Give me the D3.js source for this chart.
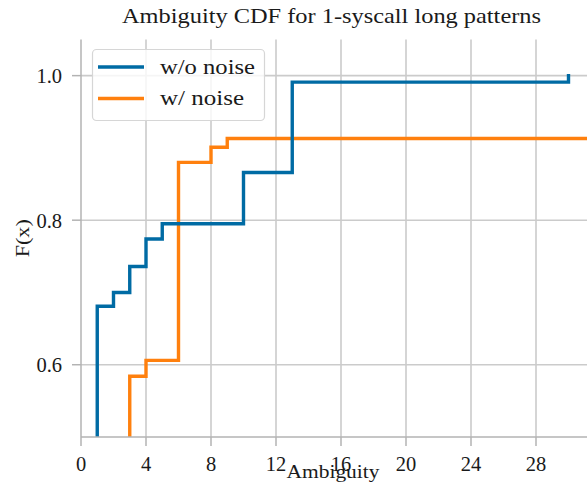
<!DOCTYPE html>
<html>
<head>
<meta charset="utf-8">
<script src="https://cdn.jsdelivr.net/npm/d3@7/dist/d3.min.js"></script>
<style>
  html, body { margin: 0; padding: 0; background: #fff; }
  svg { display: block; }
  text { font-family: "Liberation Serif", "DejaVu Serif", serif; fill: #1a1a1a; }
</style>
</head>
<body>
<svg id="chart" width="587" height="495"></svg>
<script>
// ---- data ----
const titleText = "Ambiguity CDF for 1-syscall long patterns";
const xLabel = "Ambiguity";
const yLabel = "F(x)";
const seriesNames = ["w/o noise", "w/ noise"];
const seriesColors = ["#006BA4", "#FF800E"];

const noNoiseX = [1, 2, 3, 4, 5, 10, 13, 30];
const noNoiseY = [0.681, 0.700, 0.736, 0.774, 0.795, 0.866, 0.991, 1.0];

const noiseX = [3, 4, 6, 8, 9];
const noiseY = [0.584, 0.606, 0.880, 0.901, 0.913];

const xTicks = [0, 4, 8, 12, 16, 20, 24, 28];
const yTicks = [0.6, 0.8, 1.0];
const xDomain = [0, 31];
const yDomain = [0.5, 1.05];

// ---- layout ----
const W = 587, H = 495;
const m = { left: 81, right: 2.25, top: 39.5, bottom: 58 };
const svg = d3.select("#chart");

const x = d3.scaleLinear().domain(xDomain).range([m.left, W - m.right]);
const y = d3.scaleLinear().domain(yDomain).range([H - m.bottom, m.top]);

const gridColor = "#cbcbcb";
const spineColor = "#b3b3b3";

// fit a text to a measured width from the reference
function fitWidth(sel, target) {
  sel.each(function () {
    const w = this.getComputedTextLength();
    if (w > 0 && Math.abs(w - target) > 1) {
      d3.select(this).attr("textLength", target).attr("lengthAdjust", "spacingAndGlyphs");
    }
  });
}

// grid
svg.append("g").selectAll("line.vg").data(xTicks.filter(d => d > 0)).join("line")
  .attr("x1", d => x(d)).attr("x2", d => x(d))
  .attr("y1", y.range()[0]).attr("y2", y.range()[1])
  .attr("stroke", gridColor).attr("stroke-width", 1.6);
svg.append("g").selectAll("line.hg").data(yTicks).join("line")
  .attr("x1", x.range()[0]).attr("x2", W)
  .attr("y1", d => y(d)).attr("y2", d => y(d))
  .attr("stroke", gridColor).attr("stroke-width", 1.6);

// clip
svg.append("clipPath").attr("id", "clip").append("rect")
  .attr("x", x.range()[0]).attr("y", y.range()[1] - 4)
  .attr("width", W - x.range()[0]).attr("height", y.range()[0] - y.range()[1] + 4);

// lines
const line = d3.line().x(d => x(d[0])).y(d => y(d[1])).curve(d3.curveStepAfter);
function stepPoints(xs, ys, extendTo) {
  const pts = [[xs[0], yDomain[0] - 0.01]];
  xs.forEach((v, i) => pts.push([v, ys[i]]));
  if (extendTo !== undefined) pts.push([extendTo, ys[ys.length - 1]]);
  return pts;
}
const plot = svg.append("g").attr("clip-path", "url(#clip)");
plot.append("path").datum(stepPoints(noiseX, noiseY, 40))
  .attr("d", line).attr("fill", "none")
  .attr("stroke", seriesColors[1]).attr("stroke-width", 3.4)
  .attr("stroke-linejoin", "miter");
plot.append("path").datum(stepPoints(noNoiseX, noNoiseY))
  .attr("d", line).attr("fill", "none")
  .attr("stroke", seriesColors[0]).attr("stroke-width", 3.4)
  .attr("stroke-linejoin", "miter").attr("stroke-linecap", "square");

// spines
svg.append("line").attr("x1", x.range()[0]).attr("x2", x.range()[0])
  .attr("y1", y.range()[0]).attr("y2", y.range()[1])
  .attr("stroke", spineColor).attr("stroke-width", 1.5);
svg.append("line").attr("x1", x.range()[0]).attr("x2", W)
  .attr("y1", y.range()[0]).attr("y2", y.range()[0])
  .attr("stroke", spineColor).attr("stroke-width", 1.5);

// ticks
const xt = svg.append("g").selectAll("g").data(xTicks).join("g")
  .attr("transform", d => `translate(${x(d)},${y.range()[0]})`);
xt.append("line").attr("y1", 0).attr("y2", 9).attr("stroke", spineColor).attr("stroke-width", 1.5);
xt.append("text").attr("y", 34).attr("text-anchor", "middle")
  .style("font-size", "20.5px").text(d => d);

const yt = svg.append("g").selectAll("g").data(yTicks).join("g")
  .attr("transform", d => `translate(${x.range()[0]},${y(d)})`);
yt.append("line").attr("x1", -9).attr("x2", 0).attr("stroke", spineColor).attr("stroke-width", 1.5);
yt.append("text").attr("x", -19).attr("y", 7.5).attr("text-anchor", "end")
  .style("font-size", "20.5px").text(d => d.toFixed(1));

// labels
svg.append("text").attr("x", 331.5).attr("y", 23).attr("text-anchor", "middle")
  .style("font-size", "21.5px").text(titleText).call(fitWidth, 419);
svg.append("text").attr("x", 333).attr("y", 477.5).attr("text-anchor", "middle")
  .style("font-size", "19px").text(xLabel).call(fitWidth, 93);
svg.append("text").attr("transform", `translate(29,${(y.range()[0] + y.range()[1]) / 2}) rotate(-90)`)
  .attr("text-anchor", "middle").style("font-size", "19px").text(yLabel).call(fitWidth, 38);

// legend
const lg = svg.append("g");
lg.append("rect").attr("x", 92.5).attr("y", 49.5).attr("width", 172).attr("height", 71)
  .attr("rx", 4).attr("fill", "#fff").attr("fill-opacity", 0.8)
  .attr("stroke", "#d6d6d6").attr("stroke-width", 1.2);
const legendWidths = [95, 84];
const items = lg.selectAll("g").data(seriesNames).join("g")
  .attr("transform", (d, i) => `translate(0,${67 + i * 31.5})`);
items.append("line").attr("x1", 98).attr("x2", 144)
  .attr("stroke", (d, i) => seriesColors[i]).attr("stroke-width", 3.4);
items.append("text").attr("x", 160).attr("y", 6.5)
  .style("font-size", "21px").text(d => d)
  .each(function (d, i) { d3.select(this).call(fitWidth, legendWidths[i]); });
</script>
</body>
</html>
